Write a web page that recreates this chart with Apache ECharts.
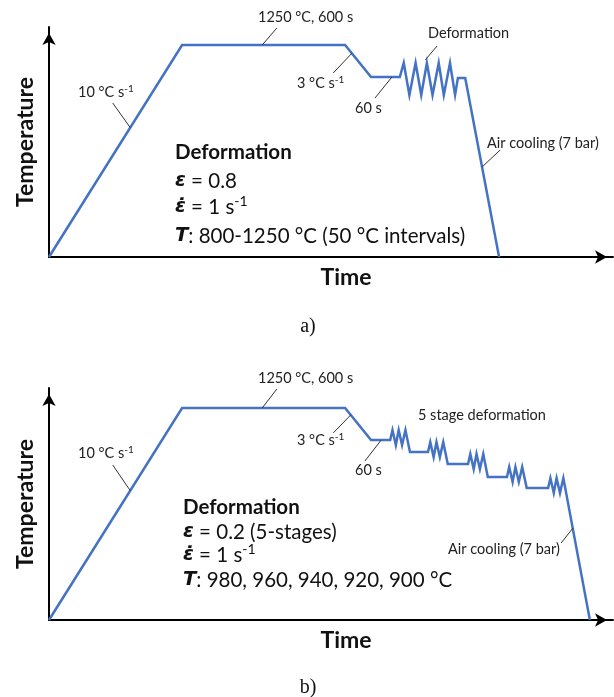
<!DOCTYPE html>
<html>
<head>
<meta charset="utf-8">
<script src="https://cdn.jsdelivr.net/npm/echarts@6/dist/echarts.min.js"></script>
<style>
  html, body { margin: 0; padding: 0; background: #fff; }
  #chart { width: 614px; height: 697px; }
</style>
</head>
<body>
<div id="chart"></div>
<script>
  // schematic units: time 0-1000 along the arrow, temperature in degC (1250 = soak)
  const profileA = [
    [0, 0], [236, 1250], [525, 1250], [571, 1061], [622, 1061],
    [629, 1144], [639, 955], [650, 1144], [660, 955], [670, 1144],
    [680, 955], [691, 1144], [700, 955], [711, 1144], [720, 955],
    [725, 1055], [738, 1055], [798, 0]
  ];
  const profileB = [
    [0, 0], [236, 1250], [525, 1250], [571, 1061], [605, 1061],
    [609, 1120], [615, 1032], [620, 1120], [626, 1032], [632, 1120], [640, 991],
    [672, 991],
    [676, 1049], [682, 961], [687, 1049], [693, 961], [699, 1049], [707, 920],
    [743, 920],
    [747, 979], [753, 890], [758, 979], [764, 890], [770, 979], [778, 843],
    [812, 843],
    [816, 902], [822, 814], [827, 902], [833, 814], [839, 902], [847, 778],
    [885, 778],
    [889, 837], [895, 749], [900, 837], [906, 749], [912, 837],
    [959, 0]
  ];
  // leader lines for the small notes, [from, to] in the same units
  const leadersA = [
    [[404, 1350], [378, 1250]],
    [[113, 908], [144, 763]],
    [[504, 1085], [537, 1201]],
    [[578, 937], [608, 1061]],
    [[667, 1161], [688, 1244]],
    [[768, 531], [800, 631]]
  ];
  const leadersB = [
    [[404, 1362], [378, 1250]],
    [[113, 914], [144, 763]],
    [[504, 1103], [535, 1209]],
    [[560, 937], [589, 1061]],
    [[908, 454], [929, 542]]
  ];

  const blue = '#4472C4';
  const font = 'Lato, "Noto Sans", "DejaVu Sans", sans-serif';

  const chart = echarts.init(document.getElementById('chart'));

  function axisX(idx) {
    return {
      gridIndex: idx, type: 'value', min: 0, max: 1000,
      axisLine: { show: true, onZero: false, symbol: ['none', 'arrow'], symbolSize: [10, 12], symbolOffset: [0, -6],
        lineStyle: { color: '#000', width: 2 } },
      axisTick: { show: false }, axisLabel: { show: false }, splitLine: { show: false },
      name: 'Time', nameLocation: 'middle', nameGap: 9,
      nameTextStyle: { fontFamily: font, fontWeight: 'bold', fontSize: 23, color: '#111', padding: [0, 0, 0, 30] }
    };
  }
  function axisY(idx, max) {
    return {
      gridIndex: idx, type: 'value', min: 0, max: max,
      axisLine: { show: true, onZero: false, symbol: ['none', 'arrow'], symbolSize: [10, 12], symbolOffset: [0, -6],
        lineStyle: { color: '#000', width: 2 } },
      axisTick: { show: false }, axisLabel: { show: false }, splitLine: { show: false },
      name: 'Temperature', nameLocation: 'middle', nameGap: 12, nameRotate: 90,
      nameTextStyle: { fontFamily: font, fontWeight: 'bold', fontSize: 23, color: '#111' }
    };
  }
  function leaderData(list) {
    return list.map(p => [{ coord: p[0] }, { coord: p[1] }]);
  }
  function profile(idx, data, leaders) {
    return {
      type: 'line', xAxisIndex: idx, yAxisIndex: idx, data: data,
      showSymbol: false, silent: true,
      lineStyle: { color: blue, width: 2.5, join: 'miter' },
      markLine: {
        silent: true, symbol: ['none', 'none'], label: { show: false },
        lineStyle: { color: '#333', width: 1, type: 'solid' },
        data: leaderData(leaders)
      }
    };
  }

  const small = { fontFamily: font, fontSize: 14.5, fill: '#222' };
  const sup = { fontFamily: font, fontSize: 10, fill: '#222', verticalAlign: 'top', lineHeight: 16 };
  const big = { fontFamily: font, fontSize: 20.5, fill: '#111' };
  const bigSup = { fontFamily: font, fontSize: 14, fill: '#111', verticalAlign: 'top', lineHeight: 26 };
  const sym = { fontFamily: '"DejaVu Sans", sans-serif', fontSize: 19.5, fontWeight: 'bold', fontStyle: 'italic', fill: '#111' };

  function note(text, x, y) {
    return { type: 'text', x: x, y: y, silent: true,
      style: Object.assign({ text: text, textVerticalAlign: 'middle', rich: { sup: sup } }, small) };
  }
  function line(text, x, y, bold) {
    return { type: 'text', x: x, y: y, silent: true,
      style: Object.assign({ text: text, textVerticalAlign: 'middle', fontWeight: bold ? 'bold' : 'normal',
        rich: { s: sym, sup: bigSup } }, big) };
  }
  function panelLabel(text, x, y) {
    return { type: 'text', x: x, y: y, silent: true,
      style: { text: text, textAlign: 'center', textVerticalAlign: 'middle',
        fontFamily: '"Liberation Serif", serif', fontSize: 20, fill: '#111' } };
  }

  chart.setOption({
    animation: false,
    backgroundColor: '#fff',
    grid: [
      { left: 49, top: 27, width: 564, height: 230 },
      { left: 49, top: 388, width: 564, height: 232 }
    ],
    xAxis: [axisX(0), axisX(1)],
    yAxis: [axisY(0, 1356), axisY(1, 1368)],
    series: [profile(0, profileA, leadersA), profile(1, profileB, leadersB)],
    graphic: [
      note('1250 °C, 600 s', 258, 17),
      note('10 °C s{sup|-1}', 78, 92),
      note('3 °C s{sup|-1}', 297, 83),
      note('60 s', 355, 108),
      note('Deformation', 428, 33),
      note('Air cooling (7 bar)', 487, 143),
      line('Deformation', 175, 152, true),
      line('{s|ε} = 0.8', 175, 181),
      line('{s|ε\u0307} = 1 s{sup|-1}', 175, 207),
      line('{s|T}: 800-1250 °C (50 °C intervals)', 175, 236),
      panelLabel('a)', 308, 327),

      note('1250 °C, 600 s', 258, 378),
      note('10 °C s{sup|-1}', 78, 453),
      note('3 °C s{sup|-1}', 297, 440),
      note('60 s', 355, 470),
      note('5 stage deformation', 418, 415),
      note('Air cooling (7 bar)', 448, 549),
      line('Deformation', 183, 507, true),
      line('{s|ε} = 0.2 (5-stages)', 183, 532),
      line('{s|ε\u0307} = 1 s{sup|-1}', 183, 555),
      line('{s|T}: 980, 960, 940, 920, 900 °C', 183, 580),
      panelLabel('b)', 308, 688)
    ]
  });
</script>
</body>
</html>
